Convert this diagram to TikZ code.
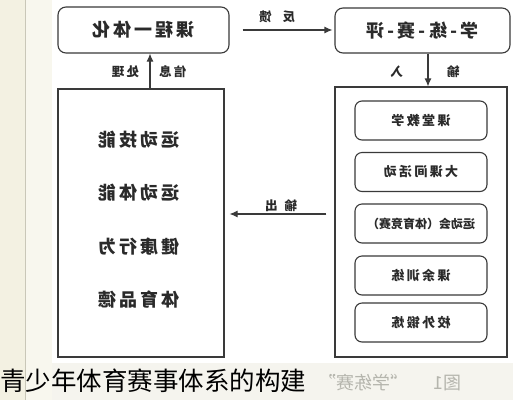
\documentclass[tikz,border=0pt]{standalone}
\usepackage{fontspec}
\usepackage{graphicx}
\usetikzlibrary{arrows.meta}
\newfontfamily\cjk{Noto Sans CJK SC}
\newfontfamily\cjkls[LetterSpace=18]{Noto Sans CJK SC}
\definecolor{lc}{HTML}{3A3A3A}
\definecolor{tc}{HTML}{2A2A2A}
\definecolor{bgl}{HTML}{F3F1E2}
\definecolor{bgltwo}{HTML}{F8F7EE}
\definecolor{sl}{HTML}{C9C7B8}
\definecolor{bgb}{HTML}{F5F4EE}
\definecolor{capg}{HTML}{B5B5AD}
\tikzset{
 box/.style={draw=lc, line width=1.1pt, fill=white, inner sep=0pt},
 rbox/.style={box, rounded corners=8pt},
 ibox/.style={box, rounded corners=7pt, minimum width=132pt, minimum height=39pt},
 arr/.style={draw=lc, line width=1.1pt, -{Latex[length=8pt,width=7pt]}},
 big/.style={font=\cjkls\bfseries\fontsize{18}{18}\selectfont, text=tc},
 mid/.style={font=\cjkls\bfseries\fontsize{13}{13}\selectfont, text=tc},
 lbl/.style={font=\cjkls\bfseries\fontsize{12.5}{12.5}\selectfont, text=tc, inner sep=0pt},
}
\begin{document}
\begin{tikzpicture}[x=1pt,y=-1pt]
\useasboundingbox (0,0) rectangle (513,400);
% background
\fill[white] (0,0) rectangle (513,400);
\fill[bgb] (0,363) rectangle (513,400);
\fill[bgl] (0,0) rectangle (25,400);
\fill[bgltwo] (26,0) rectangle (52,400);
\draw[sl, line width=1.2pt] (25.5,0) -- (25.5,400);
% top boxes
\node[rbox, minimum width=171pt, minimum height=46pt, big] (kc) at (143.5,30) {\reflectbox{课程一体化}};
\node[rbox, minimum width=175pt, minimum height=45pt, big] (xl) at (422.5,30.5) {\reflectbox{学-练-赛-评}};
% left box
\node[box, minimum width=166pt, minimum height=268pt] (lb) at (141,223) {};
\node[big] (t1) at (139,140) {\reflectbox{运动技能}};
\node[big] (t2) at (139,193) {\reflectbox{运动体能}};
\node[big] (t3) at (139,247) {\reflectbox{健康行为}};
\node[big] (t4) at (139,300) {\reflectbox{体育品德}};
% right box
\node[box, minimum width=172pt, minimum height=270pt] (rb) at (421,222) {};
\node[ibox, mid] (i1) at (421,120.5) {\reflectbox{课堂教学}};
\node[ibox, mid] (i2) at (421,172) {\reflectbox{大课间活动}};
\node[ibox, font=\cjk\bfseries\fontsize{12}{12}\selectfont, text=tc] (i3) at (421,223.5) {\reflectbox{运动会（体育竞赛）}};
\node[ibox, mid] (i4) at (421,275.5) {\reflectbox{课余训练}};
\node[ibox, mid] (i5) at (421,322.5) {\reflectbox{校外锻炼}};
% connectors
\coordinate (ux) at (150,0);
\coordinate (dx) at (428,0);
\coordinate (oy) at (0,214);
\draw[arr] ([xshift=13pt]kc.east) -- ([xshift=-2pt]xl.west |- kc.east);
\draw[arr] (lb.north -| ux) -- (kc.south -| ux);
\draw[arr] (xl.south -| dx) -- (rb.north -| dx);
\draw[arr] ([xshift=-8pt]rb.west |- oy) -- ([xshift=5pt]lb.east |- oy);
% labels
\node[lbl] (fk) at (277,17) {\reflectbox{反\hspace{11pt}馈}};
\node[lbl] (xx) at (149,72) {\reflectbox{信息\hspace{20pt}处理}};
\node[lbl] (sr) at (425,72) {\reflectbox{输\hspace{44pt}入}};
\node[lbl] (sc) at (281,206) {\reflectbox{输\hspace{7pt}出}};
% caption
\node[anchor=east, inner sep=0pt, font=\cjk\fontsize{18}{18}\selectfont, text=capg] (gcap) at (462,383) {\reflectbox{图1\hspace{25pt}“学练赛”}};
\node[anchor=west, inner sep=0pt, font=\cjk\fontsize{25.5}{25.5}\selectfont, text=black] (cap) at (0,381) {青少年体育赛事体系的构建};
\end{tikzpicture}
\end{document}
